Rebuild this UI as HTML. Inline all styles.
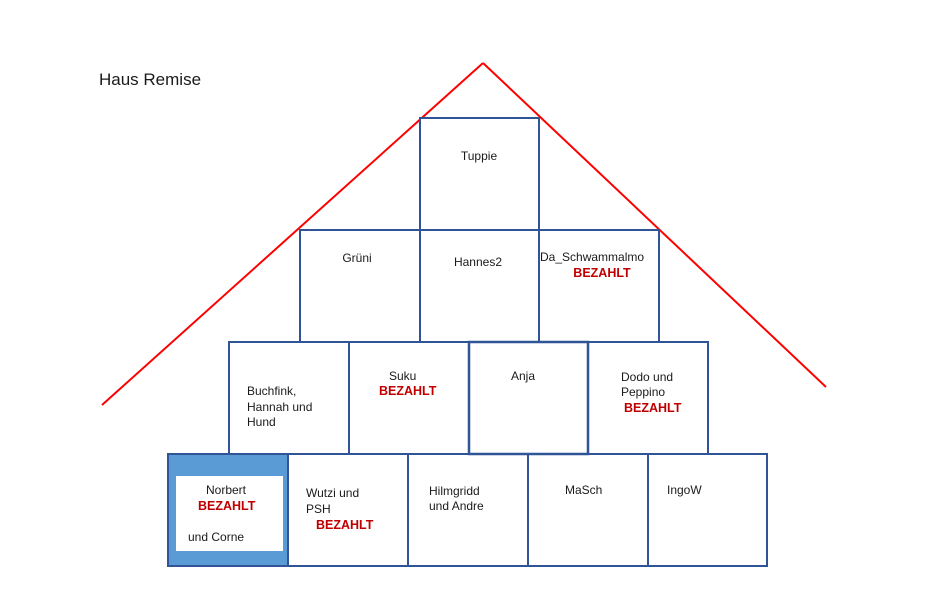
<!DOCTYPE html>
<html><head><meta charset="utf-8"><style>
html,body{margin:0;padding:0;background:#fff;}
svg{display:block;}
text{font-family:"Liberation Sans",sans-serif;font-size:12px;fill:#1a1a1a;}
.r{fill:#c00000;font-weight:bold;font-size:12.5px;}
</style></head><body>
<svg width="945" height="589" viewBox="0 0 945 589" xmlns="http://www.w3.org/2000/svg">
<rect width="945" height="589" fill="#fff"/>
<text x="99" y="85" style="font-size:17px">Haus Remise</text>
<g stroke="#ff0000" stroke-width="2" fill="none">
<line x1="102" y1="405" x2="483" y2="63"/>
<line x1="483" y1="63" x2="826" y2="387"/>
</g>
<g fill="#fff" stroke="#2f5597" stroke-width="2">
<rect x="420" y="118" width="119" height="112"/>
<rect x="300" y="230" width="120" height="112"/>
<rect x="420" y="230" width="119" height="112"/>
<rect x="539" y="230" width="120" height="112"/>
<rect x="229" y="342" width="120" height="112"/>
<rect x="349" y="342" width="120" height="112"/>
<rect x="588" y="342" width="120" height="112"/>
<rect x="288" y="454" width="120" height="112"/>
<rect x="408" y="454" width="120" height="112"/>
<rect x="528" y="454" width="120" height="112"/>
<rect x="648" y="454" width="119" height="112"/>
<rect x="469" y="342" width="119" height="112" stroke-width="2.5"/>
</g>
<rect x="168" y="454" width="120" height="112" fill="#5b9bd5" stroke="#2f5597" stroke-width="2"/>
<rect x="176" y="476" width="107" height="75" fill="#fff"/>
<text x="479" y="160" text-anchor="middle">Tuppie</text>
<text x="357" y="262" text-anchor="middle">Grüni</text>
<text x="478" y="266" text-anchor="middle">Hannes2</text>
<text x="540" y="261">Da_Schwammalmo</text>
<text class="r" x="602" y="277" text-anchor="middle">BEZAHLT</text>
<text x="247" y="395">Buchfink,</text>
<text x="247" y="411">Hannah und</text>
<text x="247" y="426">Hund</text>
<text x="389" y="380">Suku</text>
<text class="r" x="379" y="395">BEZAHLT</text>
<text x="511" y="380">Anja</text>
<text x="621" y="381">Dodo und</text>
<text x="621" y="396">Peppino</text>
<text class="r" x="624" y="412">BEZAHLT</text>
<text x="206" y="494">Norbert</text>
<text class="r" x="198" y="510">BEZAHLT</text>
<text x="188" y="541">und Corne</text>
<text x="306" y="497">Wutzi und</text>
<text x="306" y="513">PSH</text>
<text class="r" x="316" y="529">BEZAHLT</text>
<text x="429" y="495">Hilmgridd</text>
<text x="429" y="510">und Andre</text>
<text x="565" y="494">MaSch</text>
<text x="667" y="494">IngoW</text>
</svg>
</body></html>
